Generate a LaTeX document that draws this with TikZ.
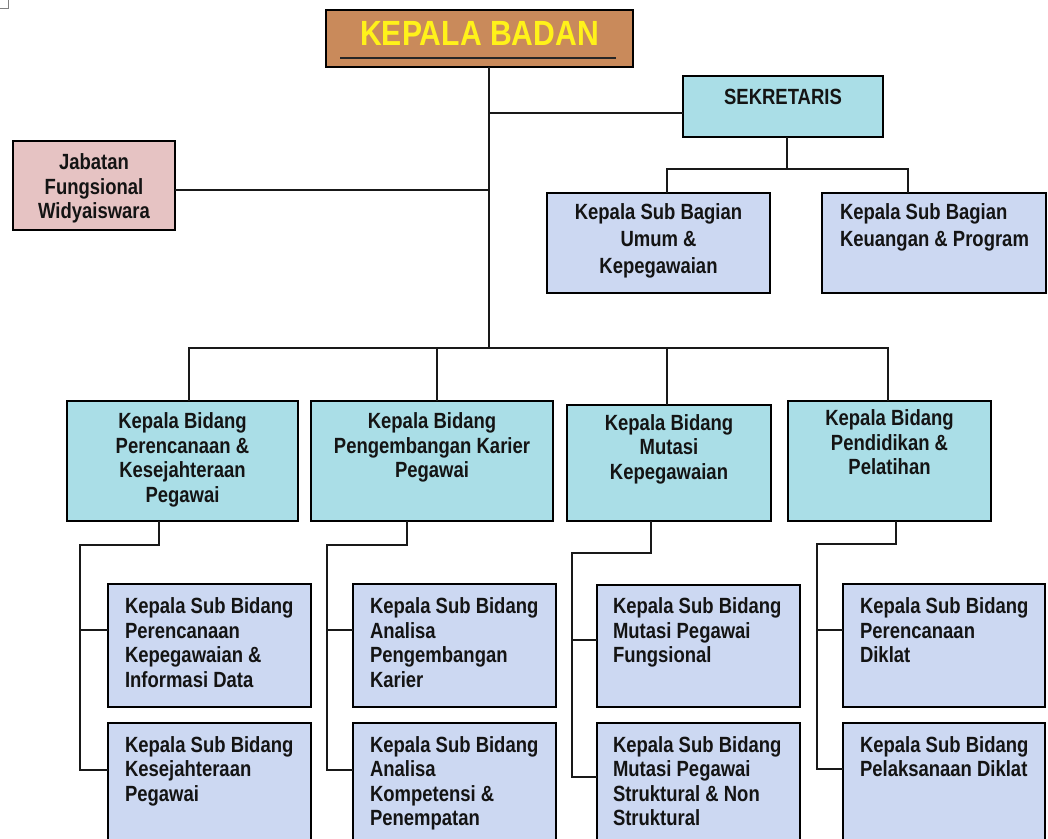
\documentclass[tikz,border=0pt]{standalone}
\usepackage{fontspec}
\setmainfont{Liberation Sans}[FakeStretch=0.84]
\newfontfamily\titlefam{Liberation Sans}[FakeStretch=0.86]
\definecolor{wood}{HTML}{C98A5B}
\definecolor{aqua}{HTML}{AADEE7}
\definecolor{lav}{HTML}{CCD8F2}
\definecolor{rose}{HTML}{E6C3C3}
\definecolor{ink}{HTML}{141414}
\definecolor{titleyellow}{HTML}{FFF21A}
\newcommand\bodyfont{\fontsize{22}{24.5}\selectfont\bfseries}
\newcommand\titlefont{\titlefam\fontsize{35}{40}\selectfont\bfseries}
\newcommand\cbx[4]{\parbox[c][#2][t]{#1}{\vspace*{#3}\centering\begin{tabular}[t]{@{}c@{}}#4\end{tabular}\par}}
\newcommand\lbx[5]{\parbox[c][#2][t]{#1}{\vspace*{#3}\raggedright\hspace*{#4}\begin{tabular}[t]{@{}l@{}}#5\end{tabular}\par}}
\tikzset{
  orgbox/.style={draw=black, line width=1.4pt, inner sep=0pt, outer sep=0pt, anchor=north west, font=\bodyfont, text=ink},
  conn/.style={line width=1.5pt, draw=black!90},
}
\begin{document}
\begin{tikzpicture}[x=1pt, y=-1pt]
\useasboundingbox (0,0) rectangle (1048,838);
\clip (0,0) rectangle (1048,838);
\fill[white] (0,0) rectangle (1048,838);
\draw[gray, line width=0.8pt] (0,8) -- (8,8) -- (8,0);

% top
\node[orgbox, fill=wood, font=\titlefont, text=titleyellow] (kepala) at (326,10)
  {\parbox[c][57pt][t]{307pt}{\vspace*{11pt}\centering KEPALA BADAN\par}};
\draw[line width=1.6pt, black!85] (340,58) -- (616,58);

\node[orgbox, fill=aqua] (sek) at (683,76) {\cbx{200pt}{61pt}{11pt}{SEKRETARIS}};
\node[orgbox, fill=rose] (jab) at (13,141) {\cbx{162pt}{89pt}{11.5pt}{Jabatan\\Fungsional\\Widyaiswara}};
\node[orgbox, fill=lav] (sb1) at (547,193) {\renewcommand\arraystretch{1.1}\cbx{223pt}{100pt}{8pt}{Kepala Sub Bagian\\Umum \&\\Kepegawaian}};
\node[orgbox, fill=lav] (sb2) at (822,193) {\renewcommand\arraystretch{1.1}\lbx{224pt}{100pt}{8pt}{18pt}{Kepala Sub Bagian\\Keuangan \& Program}};

% kepala bidang
\node[orgbox, fill=aqua] (kb1) at (67,401) {\cbx{231pt}{120pt}{10.5pt}{Kepala Bidang\\Perencanaan \&\\Kesejahteraan\\Pegawai}};
\node[orgbox, fill=aqua] (kb2) at (311,401) {\cbx{242pt}{120pt}{10.5pt}{Kepala Bidang\\Pengembangan Karier\\Pegawai}};
\node[orgbox, fill=aqua] (kb3) at (567,405) {\cbx{204pt}{116pt}{8pt}{Kepala Bidang\\Mutasi\\Kepegawaian}};
\node[orgbox, fill=aqua] (kb4) at (788,401) {\cbx{203pt}{120pt}{7.5pt}{Kepala Bidang\\Pendidikan \&\\Pelatihan}};

% sub bidang row 1
\node[orgbox, fill=lav] (s11) at (108,584) {\lbx{203pt}{123pt}{12.5pt}{17pt}{Kepala Sub Bidang\\Perencanaan\\Kepegawaian \&\\Informasi Data}};
\node[orgbox, fill=lav] (s21) at (353,584) {\lbx{203pt}{123pt}{12.5pt}{17pt}{Kepala Sub Bidang\\Analisa\\Pengembangan\\Karier}};
\node[orgbox, fill=lav] (s31) at (597,585) {\lbx{203pt}{122pt}{11.5pt}{16pt}{Kepala Sub Bidang\\Mutasi Pegawai\\Fungsional}};
\node[orgbox, fill=lav] (s41) at (843,584) {\lbx{202pt}{123pt}{12.5pt}{17pt}{Kepala Sub Bidang\\Perencanaan\\Diklat}};
% sub bidang row 2
\node[orgbox, fill=lav] (s12) at (108,723) {\lbx{203pt}{125pt}{12pt}{17pt}{Kepala Sub Bidang\\Kesejahteraan\\Pegawai}};
\node[orgbox, fill=lav] (s22) at (353,723) {\lbx{203pt}{125pt}{12pt}{17pt}{Kepala Sub Bidang\\Analisa\\Kompetensi \&\\Penempatan}};
\node[orgbox, fill=lav] (s32) at (597,723) {\lbx{203pt}{125pt}{12pt}{16pt}{Kepala Sub Bidang\\Mutasi Pegawai\\Struktural \& Non\\Struktural}};
\node[orgbox, fill=lav] (s42) at (843,723) {\lbx{202pt}{125pt}{12pt}{17pt}{Kepala Sub Bidang\\Pelaksanaan Diklat}};

% connectors: trunk
\coordinate (trunk) at (489,348);
\coordinate (jsek) at (489,113);
\coordinate (jjab) at (489,190);
\draw[conn] (trunk |- kepala.south) -- (trunk);
\draw[conn] (jsek) -- (jsek -| sek.west);
\draw[conn] (jjab -| jab.east) -- (jjab);

% sekretaris children
\coordinate (sekbus) at (787,169);
\coordinate (dsb1) at (667,169);
\coordinate (dsb2) at (908,169);
\draw[conn] (sekbus |- sek.south) -- (sekbus);
\draw[conn] (dsb1 |- sb1.north) -- (dsb1) -- (dsb2) -- (dsb2 |- sb2.north);

% main bus
\coordinate (d1) at (189,348);
\coordinate (d2) at (437,348);
\coordinate (d3) at (667,348);
\coordinate (d4) at (888,348);
\draw[conn] (d1 |- kb1.north) -- (d1) -- (d4) -- (d4 |- kb4.north);
\draw[conn] (d2) -- (d2 |- kb2.north);
\draw[conn] (d3) -- (d3 |- kb3.north);

% column brackets
\coordinate (c1t) at (159,545); \coordinate (c1b) at (80,545);
\coordinate (b11) at (80,630);  \coordinate (b12) at (80,770);
\draw[conn] (c1t |- kb1.south) -- (c1t) -- (c1b) -- (b12) -- (b12 -| s12.west);
\draw[conn] (b11) -- (b11 -| s11.west);

\coordinate (c2t) at (407,545); \coordinate (c2b) at (327,545);
\coordinate (b21) at (327,630); \coordinate (b22) at (327,770);
\draw[conn] (c2t |- kb2.south) -- (c2t) -- (c2b) -- (b22) -- (b22 -| s22.west);
\draw[conn] (b21) -- (b21 -| s21.west);

\coordinate (c3t) at (651,553); \coordinate (c3b) at (572,553);
\coordinate (b31) at (572,640); \coordinate (b32) at (572,777);
\draw[conn] (c3t |- kb3.south) -- (c3t) -- (c3b) -- (b32) -- (b32 -| s32.west);
\draw[conn] (b31) -- (b31 -| s31.west);

\coordinate (c4t) at (896,544); \coordinate (c4b) at (817,544);
\coordinate (b41) at (817,630); \coordinate (b42) at (817,769);
\draw[conn] (c4t |- kb4.south) -- (c4t) -- (c4b) -- (b42) -- (b42 -| s42.west);
\draw[conn] (b41) -- (b41 -| s41.west);
\end{tikzpicture}
\end{document}
